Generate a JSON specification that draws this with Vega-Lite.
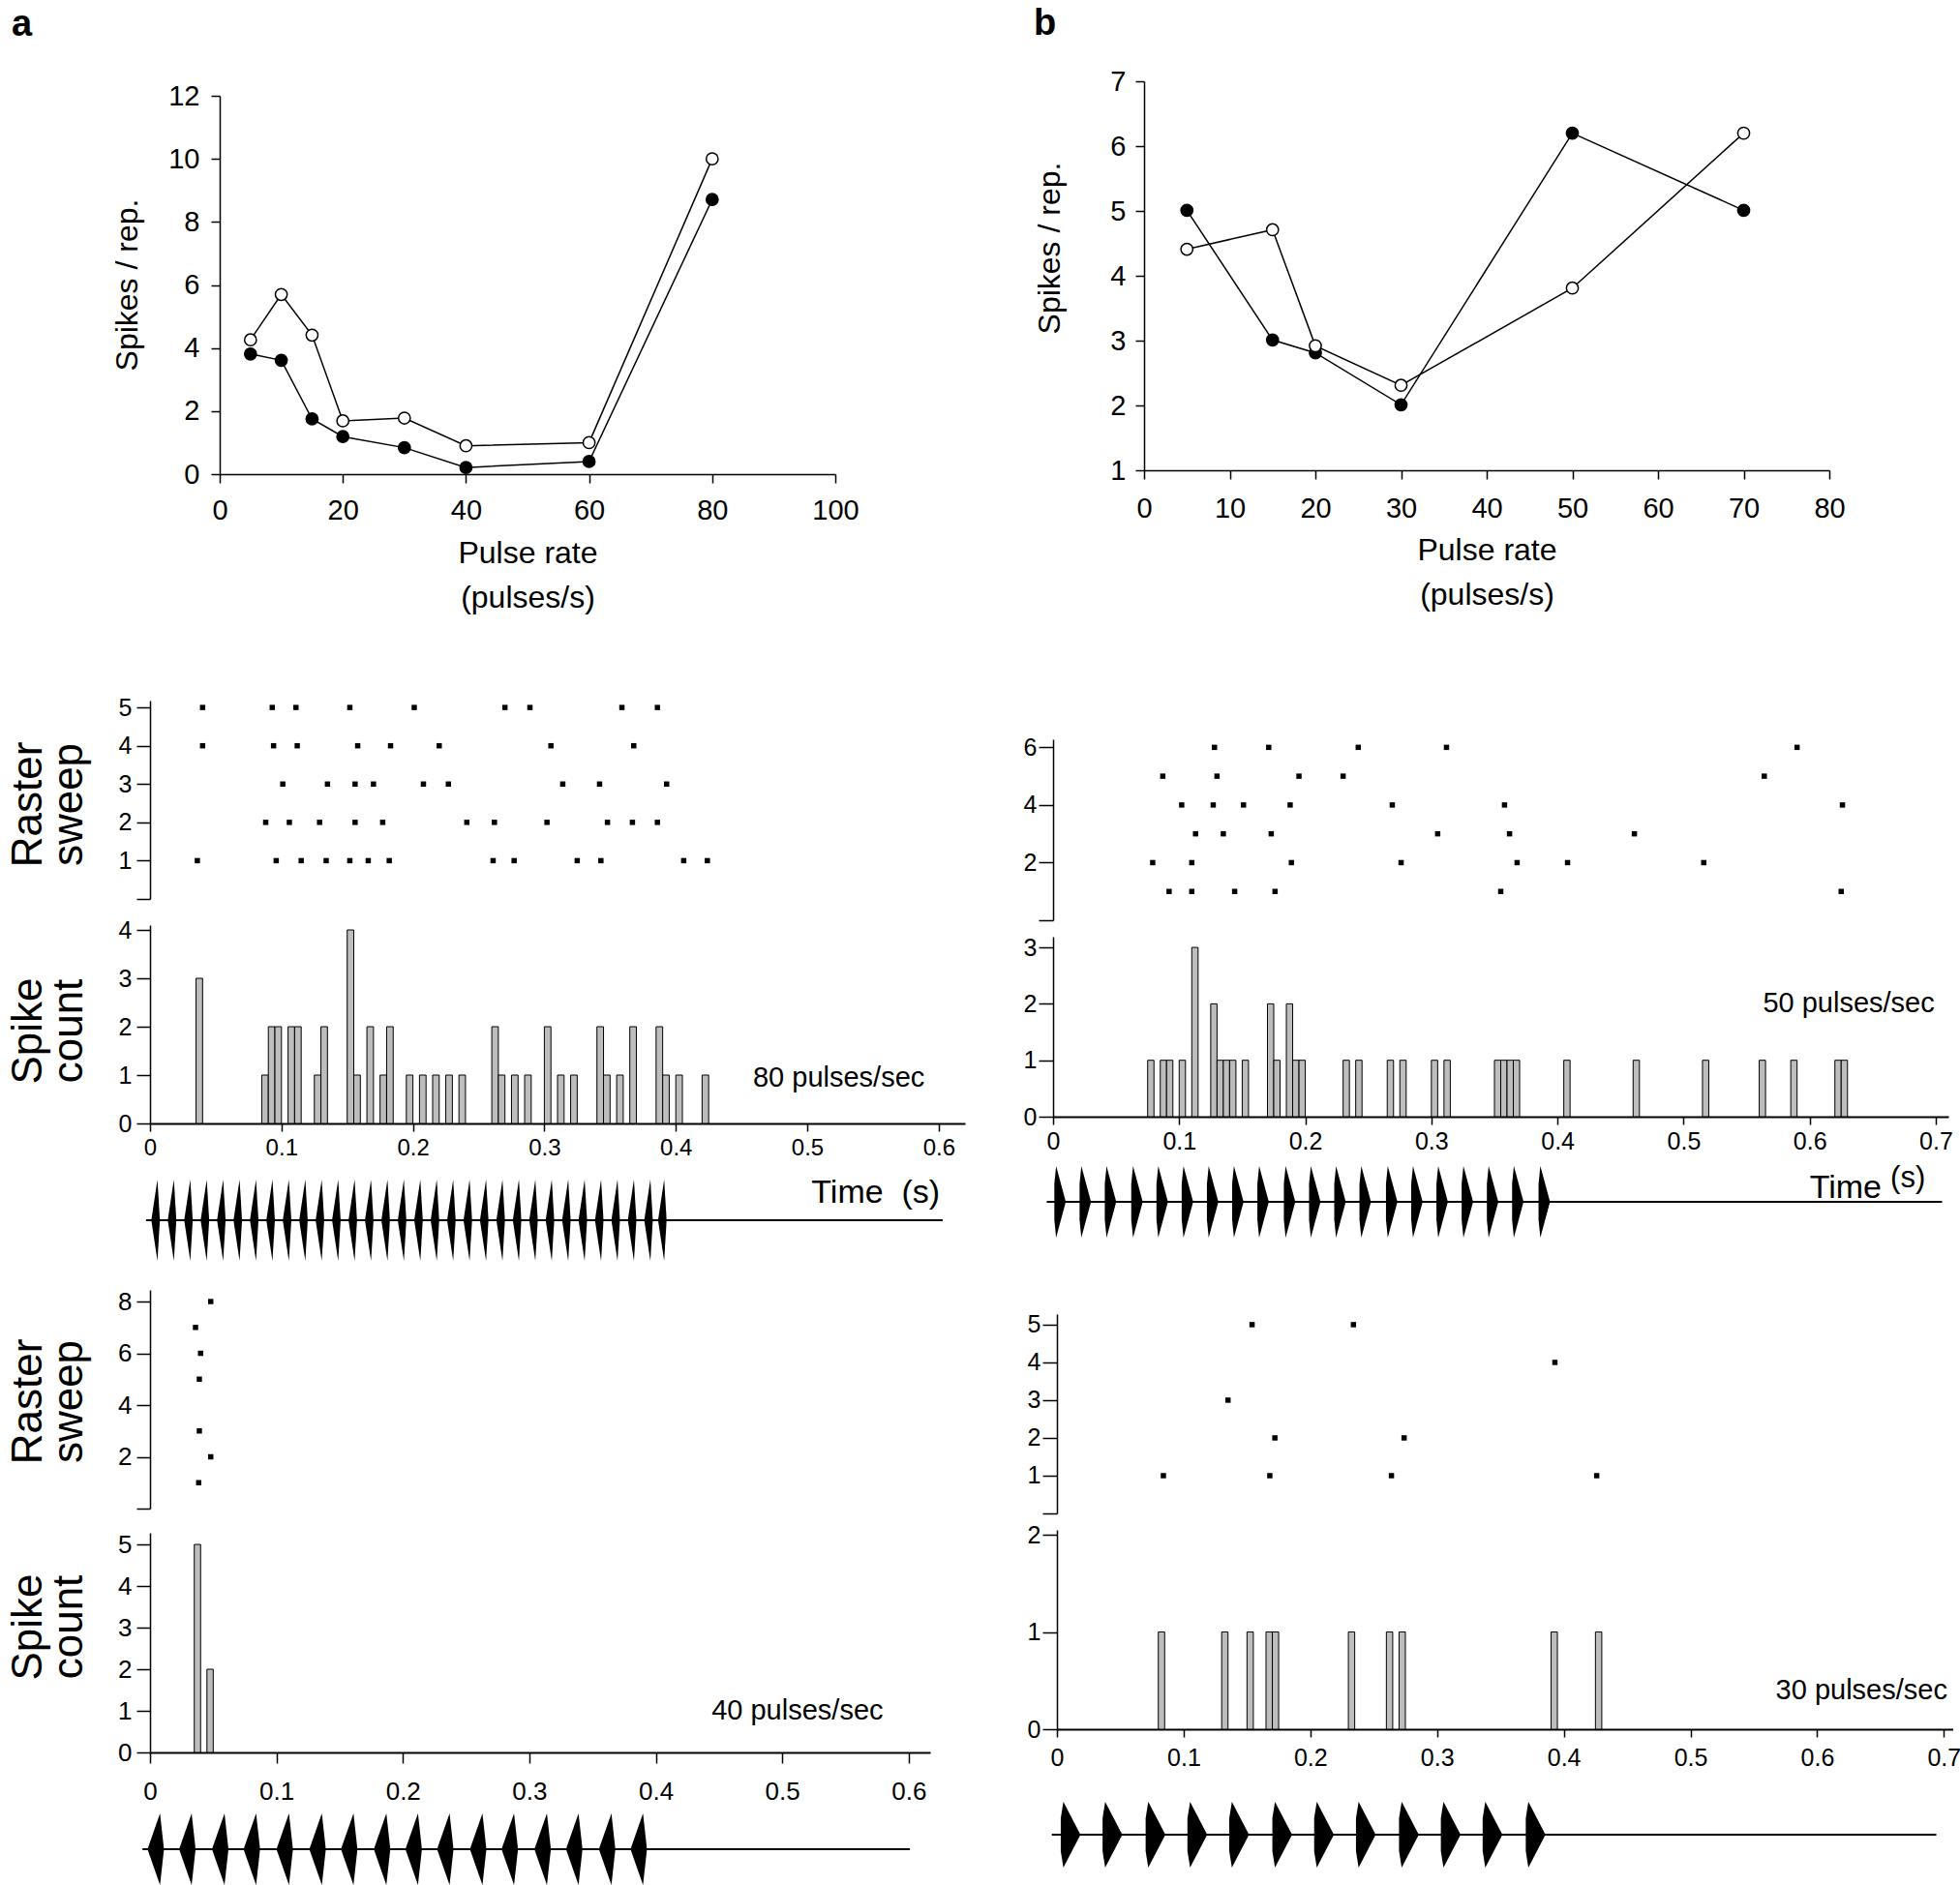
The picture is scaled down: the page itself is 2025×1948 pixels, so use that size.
{
  "$schema": "https://vega.github.io/schema/vega-lite/v6.json",
  "background": "white",
  "padding": {"left": 7, "top": 6, "right": 0, "bottom": 0},
  "config": {
    "font": "Liberation Sans",
    "view": {"stroke": null},
    "axis": {"grid": false, "domainColor": "black", "tickColor": "black", "labelColor": "black", "titleColor": "black", "domainWidth": 1.5, "tickWidth": 1.5, "labelFlush": false, "labelOverlap": false, "titleFontWeight": "normal", "labelFont": "Liberation Sans", "titleFont": "Liberation Sans"},
    "title": {"font": "Liberation Sans", "fontWeight": "bold", "color": "black"},
    "text": {"font": "Liberation Sans", "color": "black"}
  },
  "datasets": {
    "top_a": [
      {"series": "open", "rate": 5, "spikes": 4.26}, {"series": "open", "rate": 10, "spikes": 5.7}, {"series": "open", "rate": 15, "spikes": 4.41}, {"series": "open", "rate": 20, "spikes": 1.69}, {"series": "open", "rate": 30, "spikes": 1.78}, {"series": "open", "rate": 40, "spikes": 0.9}, {"series": "open", "rate": 60, "spikes": 1.0}, {"series": "open", "rate": 80, "spikes": 10.0},
      {"series": "filled", "rate": 5, "spikes": 3.81}, {"series": "filled", "rate": 10, "spikes": 3.61}, {"series": "filled", "rate": 15, "spikes": 1.75}, {"series": "filled", "rate": 20, "spikes": 1.19}, {"series": "filled", "rate": 30, "spikes": 0.84}, {"series": "filled", "rate": 40, "spikes": 0.21}, {"series": "filled", "rate": 60, "spikes": 0.4}, {"series": "filled", "rate": 80, "spikes": 8.71}
    ],
    "top_b": [
      {"series": "filled", "rate": 5, "spikes": 5.01}, {"series": "filled", "rate": 15, "spikes": 3.01}, {"series": "filled", "rate": 20, "spikes": 2.81}, {"series": "filled", "rate": 30, "spikes": 2.01}, {"series": "filled", "rate": 50, "spikes": 6.2}, {"series": "filled", "rate": 70, "spikes": 5.01},
      {"series": "open", "rate": 5, "spikes": 4.41}, {"series": "open", "rate": 15, "spikes": 4.71}, {"series": "open", "rate": 20, "spikes": 2.92}, {"series": "open", "rate": 30, "spikes": 2.31}, {"series": "open", "rate": 50, "spikes": 3.81}, {"series": "open", "rate": 70, "spikes": 6.2}
    ],
    "raster80": [
      {"sweep": 5, "t": 0.040}, {"sweep": 5, "t": 0.093}, {"sweep": 5, "t": 0.111}, {"sweep": 5, "t": 0.152}, {"sweep": 5, "t": 0.201}, {"sweep": 5, "t": 0.270}, {"sweep": 5, "t": 0.289}, {"sweep": 5, "t": 0.359}, {"sweep": 5, "t": 0.386},
      {"sweep": 4, "t": 0.040}, {"sweep": 4, "t": 0.094}, {"sweep": 4, "t": 0.112}, {"sweep": 4, "t": 0.158}, {"sweep": 4, "t": 0.183}, {"sweep": 4, "t": 0.220}, {"sweep": 4, "t": 0.305}, {"sweep": 4, "t": 0.368},
      {"sweep": 3, "t": 0.101}, {"sweep": 3, "t": 0.135}, {"sweep": 3, "t": 0.156}, {"sweep": 3, "t": 0.170}, {"sweep": 3, "t": 0.208}, {"sweep": 3, "t": 0.227}, {"sweep": 3, "t": 0.314}, {"sweep": 3, "t": 0.342}, {"sweep": 3, "t": 0.393},
      {"sweep": 2, "t": 0.088}, {"sweep": 2, "t": 0.106}, {"sweep": 2, "t": 0.129}, {"sweep": 2, "t": 0.156}, {"sweep": 2, "t": 0.177}, {"sweep": 2, "t": 0.241}, {"sweep": 2, "t": 0.262}, {"sweep": 2, "t": 0.302}, {"sweep": 2, "t": 0.348}, {"sweep": 2, "t": 0.367}, {"sweep": 2, "t": 0.386},
      {"sweep": 1, "t": 0.036}, {"sweep": 1, "t": 0.096}, {"sweep": 1, "t": 0.115}, {"sweep": 1, "t": 0.134}, {"sweep": 1, "t": 0.152}, {"sweep": 1, "t": 0.166}, {"sweep": 1, "t": 0.182}, {"sweep": 1, "t": 0.261}, {"sweep": 1, "t": 0.277}, {"sweep": 1, "t": 0.325}, {"sweep": 1, "t": 0.343}, {"sweep": 1, "t": 0.406}, {"sweep": 1, "t": 0.424}
    ],
    "hist80": [
      {"start": 0.035, "end": 0.040, "count": 3}, {"start": 0.085, "end": 0.090, "count": 1}, {"start": 0.090, "end": 0.095, "count": 2}, {"start": 0.095, "end": 0.100, "count": 2}, {"start": 0.105, "end": 0.110, "count": 2}, {"start": 0.110, "end": 0.115, "count": 2}, {"start": 0.125, "end": 0.130, "count": 1}, {"start": 0.130, "end": 0.135, "count": 2}, {"start": 0.150, "end": 0.155, "count": 4}, {"start": 0.155, "end": 0.160, "count": 1}, {"start": 0.165, "end": 0.170, "count": 2}, {"start": 0.175, "end": 0.180, "count": 1}, {"start": 0.180, "end": 0.185, "count": 2}, {"start": 0.195, "end": 0.200, "count": 1}, {"start": 0.205, "end": 0.210, "count": 1}, {"start": 0.215, "end": 0.220, "count": 1}, {"start": 0.225, "end": 0.230, "count": 1}, {"start": 0.235, "end": 0.240, "count": 1}, {"start": 0.260, "end": 0.265, "count": 2}, {"start": 0.265, "end": 0.270, "count": 1}, {"start": 0.275, "end": 0.280, "count": 1}, {"start": 0.285, "end": 0.290, "count": 1}, {"start": 0.300, "end": 0.305, "count": 2}, {"start": 0.310, "end": 0.315, "count": 1}, {"start": 0.320, "end": 0.325, "count": 1}, {"start": 0.340, "end": 0.345, "count": 2}, {"start": 0.345, "end": 0.350, "count": 1}, {"start": 0.355, "end": 0.360, "count": 1}, {"start": 0.365, "end": 0.370, "count": 2}, {"start": 0.385, "end": 0.390, "count": 2}, {"start": 0.390, "end": 0.395, "count": 1}, {"start": 0.400, "end": 0.405, "count": 1}, {"start": 0.420, "end": 0.425, "count": 1}
    ],
    "pulses80": [
      {"t": 0.001}, {"t": 0.0135}, {"t": 0.026}, {"t": 0.0385}, {"t": 0.051}, {"t": 0.0635}, {"t": 0.076}, {"t": 0.0885}, {"t": 0.101}, {"t": 0.1135}, {"t": 0.126}, {"t": 0.1385}, {"t": 0.151}, {"t": 0.1635}, {"t": 0.176}, {"t": 0.1885}, {"t": 0.201}, {"t": 0.2135}, {"t": 0.226}, {"t": 0.2385}, {"t": 0.251}, {"t": 0.2635}, {"t": 0.276}, {"t": 0.2885}, {"t": 0.301}, {"t": 0.3135}, {"t": 0.326}, {"t": 0.3385}, {"t": 0.351}, {"t": 0.3635}, {"t": 0.376}, {"t": 0.3865}
    ],
    "raster50": [
      {"sweep": 6, "t": 0.128}, {"sweep": 6, "t": 0.171}, {"sweep": 6, "t": 0.242}, {"sweep": 6, "t": 0.312}, {"sweep": 6, "t": 0.590},
      {"sweep": 5, "t": 0.087}, {"sweep": 5, "t": 0.130}, {"sweep": 5, "t": 0.195}, {"sweep": 5, "t": 0.230}, {"sweep": 5, "t": 0.564},
      {"sweep": 4, "t": 0.102}, {"sweep": 4, "t": 0.127}, {"sweep": 4, "t": 0.151}, {"sweep": 4, "t": 0.188}, {"sweep": 4, "t": 0.269}, {"sweep": 4, "t": 0.358}, {"sweep": 4, "t": 0.626},
      {"sweep": 3, "t": 0.113}, {"sweep": 3, "t": 0.135}, {"sweep": 3, "t": 0.173}, {"sweep": 3, "t": 0.305}, {"sweep": 3, "t": 0.362}, {"sweep": 3, "t": 0.461},
      {"sweep": 2, "t": 0.079}, {"sweep": 2, "t": 0.110}, {"sweep": 2, "t": 0.189}, {"sweep": 2, "t": 0.276}, {"sweep": 2, "t": 0.368}, {"sweep": 2, "t": 0.408}, {"sweep": 2, "t": 0.516},
      {"sweep": 1, "t": 0.092}, {"sweep": 1, "t": 0.110}, {"sweep": 1, "t": 0.144}, {"sweep": 1, "t": 0.176}, {"sweep": 1, "t": 0.355}, {"sweep": 1, "t": 0.625}
    ],
    "hist50": [
      {"start": 0.075, "end": 0.080, "count": 1}, {"start": 0.085, "end": 0.090, "count": 1}, {"start": 0.090, "end": 0.095, "count": 1}, {"start": 0.100, "end": 0.105, "count": 1}, {"start": 0.110, "end": 0.115, "count": 3}, {"start": 0.125, "end": 0.130, "count": 2}, {"start": 0.130, "end": 0.135, "count": 1}, {"start": 0.135, "end": 0.140, "count": 1}, {"start": 0.140, "end": 0.145, "count": 1}, {"start": 0.150, "end": 0.155, "count": 1}, {"start": 0.170, "end": 0.175, "count": 2}, {"start": 0.175, "end": 0.180, "count": 1}, {"start": 0.185, "end": 0.190, "count": 2}, {"start": 0.190, "end": 0.195, "count": 1}, {"start": 0.195, "end": 0.200, "count": 1}, {"start": 0.230, "end": 0.235, "count": 1}, {"start": 0.240, "end": 0.245, "count": 1}, {"start": 0.265, "end": 0.270, "count": 1}, {"start": 0.275, "end": 0.280, "count": 1}, {"start": 0.300, "end": 0.305, "count": 1}, {"start": 0.310, "end": 0.315, "count": 1}, {"start": 0.350, "end": 0.355, "count": 1}, {"start": 0.355, "end": 0.360, "count": 1}, {"start": 0.360, "end": 0.365, "count": 1}, {"start": 0.365, "end": 0.370, "count": 1}, {"start": 0.405, "end": 0.410, "count": 1}, {"start": 0.460, "end": 0.465, "count": 1}, {"start": 0.515, "end": 0.520, "count": 1}, {"start": 0.560, "end": 0.565, "count": 1}, {"start": 0.585, "end": 0.590, "count": 1}, {"start": 0.620, "end": 0.625, "count": 1}, {"start": 0.625, "end": 0.630, "count": 1}
    ],
    "pulses50": [
      {"t": 0.001}, {"t": 0.021}, {"t": 0.041}, {"t": 0.062}, {"t": 0.082}, {"t": 0.102}, {"t": 0.122}, {"t": 0.142}, {"t": 0.162}, {"t": 0.183}, {"t": 0.203}, {"t": 0.223}, {"t": 0.243}, {"t": 0.264}, {"t": 0.284}, {"t": 0.304}, {"t": 0.324}, {"t": 0.344}, {"t": 0.364}, {"t": 0.385}
    ],
    "raster40": [
      {"sweep": 8, "t": 0.048}, {"sweep": 7, "t": 0.036}, {"sweep": 6, "t": 0.040}, {"sweep": 5, "t": 0.039}, {"sweep": 3, "t": 0.039}, {"sweep": 2, "t": 0.048}, {"sweep": 1, "t": 0.0385}
    ],
    "hist40": [
      {"start": 0.035, "end": 0.040, "count": 5}, {"start": 0.045, "end": 0.050, "count": 2}
    ],
    "pulses40": [
      {"t": -0.002}, {"t": 0.023}, {"t": 0.049}, {"t": 0.074}, {"t": 0.100}, {"t": 0.126}, {"t": 0.151}, {"t": 0.177}, {"t": 0.202}, {"t": 0.227}, {"t": 0.253}, {"t": 0.278}, {"t": 0.304}, {"t": 0.329}, {"t": 0.355}, {"t": 0.380}
    ],
    "raster30": [
      {"sweep": 5, "t": 0.154}, {"sweep": 5, "t": 0.234}, {"sweep": 4, "t": 0.393}, {"sweep": 3, "t": 0.135}, {"sweep": 2, "t": 0.172}, {"sweep": 2, "t": 0.274}, {"sweep": 1, "t": 0.084}, {"sweep": 1, "t": 0.168}, {"sweep": 1, "t": 0.264}, {"sweep": 1, "t": 0.426}
    ],
    "hist30": [
      {"start": 0.080, "end": 0.085, "count": 1}, {"start": 0.130, "end": 0.135, "count": 1}, {"start": 0.150, "end": 0.155, "count": 1}, {"start": 0.165, "end": 0.170, "count": 1}, {"start": 0.170, "end": 0.175, "count": 1}, {"start": 0.230, "end": 0.235, "count": 1}, {"start": 0.260, "end": 0.265, "count": 1}, {"start": 0.270, "end": 0.275, "count": 1}, {"start": 0.390, "end": 0.395, "count": 1}, {"start": 0.425, "end": 0.430, "count": 1}
    ],
    "pulses30": [
      {"t": 0.003}, {"t": 0.036}, {"t": 0.070}, {"t": 0.103}, {"t": 0.136}, {"t": 0.170}, {"t": 0.203}, {"t": 0.236}, {"t": 0.270}, {"t": 0.303}, {"t": 0.336}, {"t": 0.370}
    ]
  },
  "columns": 2,
  "spacing": {"row": 0, "column": 91},
  "align": {"row": "each", "column": "each"},
  "bounds": "flush",
  "concat": [
    {
      "width": 708, "height": 519,
      "title": {"text": "a", "anchor": "start", "frame": "group", "dx": -143, "dy": -9, "offset": 0, "baseline": "alphabetic", "fontSize": 38, "fontWeight": "bold"},
      "data": {"name": "top_a"},
      "encoding": {
        "x": {"field": "rate", "type": "quantitative", "scale": {"domain": [0, 100], "range": [72, 708], "nice": false, "zero": false},
              "axis": {"values": [0, 20, 40, 60, 80, 100], "offset": -113, "title": ["Pulse rate", "(pulses/s)"], "titleFontSize": 32, "titleLineHeight": 46, "titleBaseline": "alphabetic", "titleY": 91, "labelFontSize": 29, "tickSize": 9, "labelPadding": 14}},
        "y": {"field": "spikes", "type": "quantitative", "scale": {"domain": [0, 12], "range": [406, 15], "nice": false},
              "axis": {"values": [0, 2, 4, 6, 8, 10, 12], "offset": -72, "title": "Spikes / rep.", "titleFontSize": 32, "titleAngle": 270, "titleBaseline": "alphabetic", "titleAlign": "center", "titleX": -86, "titleY": 210, "labelFontSize": 29, "tickSize": 9, "labelPadding": 12}}
      },
      "layer": [
        {"mark": {"type": "line", "color": "black", "strokeWidth": 1.5}, "encoding": {"detail": {"field": "series", "type": "nominal"}}},
        {"mark": {"type": "point", "shape": "circle", "size": 150, "filled": true, "stroke": "black", "strokeWidth": 1.5, "opacity": 1},
         "encoding": {"fill": {"field": "series", "type": "nominal", "scale": {"domain": ["filled", "open"], "range": ["black", "white"]}, "legend": null}}}
      ]
    },
    {
      "width": 802, "height": 519,
      "title": {"text": "b", "anchor": "start", "frame": "group", "dx": -20, "dy": 4, "offset": 0, "baseline": "alphabetic", "fontSize": 38, "fontWeight": "bold"},
      "data": {"name": "top_b"},
      "encoding": {
        "x": {"field": "rate", "type": "quantitative", "scale": {"domain": [0, 80], "range": [94, 802], "nice": false, "zero": false},
              "axis": {"values": [0, 10, 20, 30, 40, 50, 60, 70, 80], "offset": -117, "title": ["Pulse rate", "(pulses/s)"], "titleFontSize": 32, "titleLineHeight": 46, "titleBaseline": "alphabetic", "titleY": 92, "labelFontSize": 29, "tickSize": 9, "labelPadding": 16}},
        "y": {"field": "spikes", "type": "quantitative", "scale": {"domain": [1, 7], "range": [402, 0], "nice": false, "zero": false},
              "axis": {"values": [1, 2, 3, 4, 5, 6, 7], "offset": -94, "title": "Spikes / rep.", "titleFontSize": 32, "titleAngle": 270, "titleBaseline": "alphabetic", "titleAlign": "center", "titleX": -88, "titleY": 172, "labelFontSize": 29, "tickSize": 9, "labelPadding": 10}}
      },
      "layer": [
        {"mark": {"type": "line", "color": "black", "strokeWidth": 1.5}, "encoding": {"detail": {"field": "series", "type": "nominal"}}},
        {"mark": {"type": "point", "shape": "circle", "size": 150, "filled": true, "stroke": "black", "strokeWidth": 1.5, "opacity": 1},
         "encoding": {"fill": {"field": "series", "type": "nominal", "scale": {"domain": ["filled", "open"], "range": ["black", "white"]}, "legend": null}}}
      ]
    },

    {
      "width": 842, "height": 350,
      "data": {"name": "raster80"},
      "mark": {"type": "point", "shape": "square", "size": 30, "filled": true, "color": "black", "opacity": 1},
      "encoding": {
        "x": {"field": "t", "type": "quantitative", "scale": {"domain": [0, 0.62], "nice": false, "zero": false}, "axis": null},
        "y": {"field": "sweep", "type": "quantitative", "scale": {"domain": [0, 5.18], "range": [326, 121], "nice": false},
              "axis": {"values": [0, 1, 2, 3, 4, 5], "format": "d", "labelExpr": "datum.value == 0 ? '' : datum.label", "title": ["Raster", "sweep"], "titleFontSize": 44, "titleLineHeight": 42, "titleAngle": 270, "titleBaseline": "alphabetic", "titleAlign": "center", "titleX": -113, "titleY": 228, "labelFontSize": 25, "tickSize": 14, "labelPadding": 5}}
      }
    },
    {
      "width": 925, "height": 350,
      "data": {"name": "raster50"},
      "mark": {"type": "point", "shape": "square", "size": 30, "filled": true, "color": "black", "opacity": 1},
      "encoding": {
        "x": {"field": "t", "type": "quantitative", "scale": {"domain": [0, 0.71], "nice": false, "zero": false}, "axis": null},
        "y": {"field": "sweep", "type": "quantitative", "scale": {"domain": [0, 6.28], "range": [348, 161], "nice": false},
              "axis": {"values": [0, 2, 4, 6], "format": "d", "labelExpr": "datum.value == 0 ? '' : datum.label", "title": null, "labelFontSize": 25, "tickSize": 15, "labelPadding": 2}}
      }
    },

    {
      "width": 842, "height": 210,
      "layer": [
        {"data": {"name": "hist80"}, "mark": {"type": "bar", "fill": "#bdbdbd", "stroke": "black", "strokeWidth": 1},
         "encoding": {
           "x": {"field": "start", "type": "quantitative", "scale": {"domain": [0, 0.62], "nice": false, "zero": false},
                 "axis": {"values": [0, 0.1, 0.2, 0.3, 0.4, 0.5, 0.6], "format": "~g", "offset": -2, "title": null, "labelFontSize": 24, "tickSize": 8, "labelPadding": 5, "domainWidth": 2}},
           "x2": {"field": "end"},
           "y": {"field": "count", "type": "quantitative", "scale": {"domain": [0, 4.1], "range": [208, 3], "nice": false},
                 "axis": {"values": [0, 1, 2, 3, 4], "format": "d", "title": ["Spike", "count"], "titleFontSize": 44, "titleLineHeight": 42, "titleAngle": 270, "titleBaseline": "alphabetic", "titleAlign": "center", "titleX": -113, "titleY": 112, "labelFontSize": 25, "tickSize": 14, "labelPadding": 5}},
           "y2": {"datum": 0}
         }},
        {"data": {"values": [{}]}, "mark": {"type": "text", "text": "80 pulses/sec", "fontSize": 29, "align": "center", "baseline": "middle"},
         "encoding": {"x": {"datum": 0.524, "type": "quantitative"}, "y": {"datum": 0.94, "type": "quantitative"}}}
      ]
    },
    {
      "width": 925, "height": 210,
      "layer": [
        {"data": {"name": "hist50"}, "mark": {"type": "bar", "fill": "#bdbdbd", "stroke": "black", "strokeWidth": 1},
         "encoding": {
           "x": {"field": "start", "type": "quantitative", "scale": {"domain": [0, 0.71], "nice": false, "zero": false},
                 "axis": {"values": [0, 0.1, 0.2, 0.3, 0.4, 0.5, 0.6, 0.7], "format": "~g", "offset": -9, "title": null, "labelFontSize": 25, "tickSize": 8, "labelPadding": 5, "domainWidth": 2}},
           "x2": {"field": "end"},
           "y": {"field": "count", "type": "quantitative", "scale": {"domain": [0, 3.19], "range": [201, 15], "nice": false},
                 "axis": {"values": [0, 1, 2, 3], "format": "d", "title": null, "labelFontSize": 25, "tickSize": 15, "labelPadding": 2}},
           "y2": {"datum": 0}
         }},
        {"data": {"values": [{}]}, "mark": {"type": "text", "text": "50 pulses/sec", "fontSize": 29, "align": "center", "baseline": "middle"},
         "encoding": {"x": {"datum": 0.631, "type": "quantitative"}, "y": {"datum": 2.0, "type": "quantitative"}}}
      ]
    },

    {
      "width": 842, "height": 150,
      "layer": [
        {"data": {"values": [{}]}, "mark": {"type": "rule", "color": "black", "strokeWidth": 2},
         "encoding": {"x": {"datum": -0.003, "type": "quantitative", "scale": {"domain": [0, 0.62], "nice": false, "zero": false}, "axis": null}, "x2": {"datum": 0.603},
                      "y": {"datum": 0, "type": "quantitative", "scale": {"domain": [-1, 1], "range": [140, 56], "nice": false}, "axis": null}}},
        {"data": {"name": "pulses80"}, "mark": {"type": "point", "shape": "M0,0L0.15,-1L0.21,0L0.15,1Z", "size": 7056, "filled": true, "color": "black", "opacity": 1, "strokeWidth": 0},
         "encoding": {"x": {"field": "t", "type": "quantitative"}, "y": {"datum": 0, "type": "quantitative"}}},
        {"data": {"values": [{}]}, "mark": {"type": "text", "text": "Time\u00a0\u00a0(s)", "fontSize": 34, "align": "right", "baseline": "alphabetic"},
         "encoding": {"x": {"datum": 0.601, "type": "quantitative"}, "y": {"datum": 0.43, "type": "quantitative"}}}
      ]
    },
    {
      "width": 925, "height": 150,
      "layer": [
        {"data": {"values": [{}]}, "mark": {"type": "rule", "color": "black", "strokeWidth": 2},
         "encoding": {"x": {"datum": -0.005, "type": "quantitative", "scale": {"domain": [0, 0.71], "nice": false, "zero": false}, "axis": null}, "x2": {"datum": 0.705},
                      "y": {"datum": 0, "type": "quantitative", "scale": {"domain": [-1, 1], "range": [116, 42], "nice": false}, "axis": null}}},
        {"data": {"name": "pulses50"}, "mark": {"type": "point", "shape": "M0,-0.5L0.05,-1L0.32,0L0.05,1L0,0.5Z", "size": 5476, "filled": true, "color": "black", "opacity": 1, "strokeWidth": 0},
         "encoding": {"x": {"field": "t", "type": "quantitative"}, "y": {"datum": 0, "type": "quantitative"}}},
        {"data": {"values": [{}]}, "mark": {"type": "text", "text": "Time", "fontSize": 34, "align": "right", "baseline": "alphabetic"},
         "encoding": {"x": {"datum": 0.657, "type": "quantitative"}, "y": {"datum": 0.11, "type": "quantitative"}}},
        {"data": {"values": [{}]}, "mark": {"type": "text", "text": "(s)", "fontSize": 31, "align": "left", "baseline": "alphabetic"},
         "encoding": {"x": {"datum": 0.664, "type": "quantitative"}, "y": {"datum": 0.4, "type": "quantitative"}}}
      ]
    },

    {
      "width": 806, "height": 255,
      "data": {"name": "raster40"},
      "mark": {"type": "point", "shape": "square", "size": 30, "filled": true, "color": "black", "opacity": 1},
      "encoding": {
        "x": {"field": "t", "type": "quantitative", "scale": {"domain": [0, 0.617], "nice": false, "zero": false}, "axis": null},
        "y": {"field": "sweep", "type": "quantitative", "scale": {"domain": [0, 8.45], "range": [246, 20], "nice": false},
              "axis": {"values": [0, 2, 4, 6, 8], "format": "d", "labelExpr": "datum.value == 0 ? '' : datum.label", "title": ["Raster", "sweep"], "titleFontSize": 44, "titleLineHeight": 42, "titleAngle": 270, "titleBaseline": "alphabetic", "titleAlign": "center", "titleX": -113, "titleY": 135, "labelFontSize": 26, "tickSize": 14, "labelPadding": 5}}
      }
    },
    {
      "width": 930, "height": 255,
      "data": {"name": "raster30"},
      "mark": {"type": "point", "shape": "square", "size": 30, "filled": true, "color": "black", "opacity": 1},
      "encoding": {
        "x": {"field": "t", "type": "quantitative", "scale": {"domain": [0, 0.707], "range": [4, 929.5], "nice": false, "zero": false}, "axis": null},
        "y": {"field": "sweep", "type": "quantitative", "scale": {"domain": [0, 5.28], "range": [251, 45], "nice": false},
              "axis": {"values": [0, 1, 2, 3, 4, 5], "format": "d", "offset": -4, "labelExpr": "datum.value == 0 ? '' : datum.label", "title": null, "labelFontSize": 25, "tickSize": 15, "labelPadding": 2}}
      }
    },

    {
      "width": 806, "height": 245,
      "layer": [
        {"data": {"name": "hist40"}, "mark": {"type": "bar", "fill": "#bdbdbd", "stroke": "black", "strokeWidth": 1},
         "encoding": {
           "x": {"field": "start", "type": "quantitative", "scale": {"domain": [0, 0.617], "nice": false, "zero": false},
                 "axis": {"values": [0, 0.1, 0.2, 0.3, 0.4, 0.5, 0.6], "format": "~g", "offset": -2, "title": null, "labelFontSize": 26, "tickSize": 11, "labelPadding": 16, "domainWidth": 2}},
           "x2": {"field": "end"},
           "y": {"field": "count", "type": "quantitative", "scale": {"domain": [0, 5.28], "range": [243, 16], "nice": false},
                 "axis": {"values": [0, 1, 2, 3, 4, 5], "format": "d", "title": ["Spike", "count"], "titleFontSize": 44, "titleLineHeight": 42, "titleAngle": 270, "titleBaseline": "alphabetic", "titleAlign": "center", "titleX": -113, "titleY": 113, "labelFontSize": 26, "tickSize": 14, "labelPadding": 5}},
           "y2": {"datum": 0}
         }},
        {"data": {"values": [{}]}, "mark": {"type": "text", "text": "40 pulses/sec", "fontSize": 29, "align": "center", "baseline": "middle"},
         "encoding": {"x": {"datum": 0.512, "type": "quantitative"}, "y": {"datum": 0.99, "type": "quantitative"}}}
      ]
    },
    {
      "width": 930, "height": 245,
      "layer": [
        {"data": {"name": "hist30"}, "mark": {"type": "bar", "fill": "#bdbdbd", "stroke": "black", "strokeWidth": 1},
         "encoding": {
           "x": {"field": "start", "type": "quantitative", "scale": {"domain": [0, 0.707], "range": [4, 929.5], "nice": false, "zero": false},
                 "axis": {"values": [0, 0.1, 0.2, 0.3, 0.4, 0.5, 0.6, 0.7], "format": "~g", "offset": -26, "title": null, "labelFontSize": 25, "tickSize": 8, "labelPadding": 9, "domainWidth": 2}},
           "x2": {"field": "end"},
           "y": {"field": "count", "type": "quantitative", "scale": {"domain": [0, 2.05], "range": [219, 13], "nice": false},
                 "axis": {"values": [0, 0.5, 1, 1.5, 2], "labelExpr": "datum.value == 0 ? '0' : datum.value == 1 ? '1' : datum.value == 2 ? '2' : ''", "tickSize": 15, "tickOpacity": {"condition": {"test": "datum.value % 1 != 0", "value": 0}, "value": 1}, "offset": -4, "labelOverlap": false, "title": null, "labelFontSize": 25, "labelPadding": 2}},
           "y2": {"datum": 0}
         }},
        {"data": {"values": [{}]}, "mark": {"type": "text", "text": "30 pulses/sec", "fontSize": 29, "align": "center", "baseline": "middle"},
         "encoding": {"x": {"datum": 0.635, "type": "quantitative"}, "y": {"datum": 0.40, "type": "quantitative"}}}
      ]
    },

    {
      "width": 806, "height": 138,
      "layer": [
        {"data": {"values": [{}]}, "mark": {"type": "rule", "color": "black", "strokeWidth": 2},
         "encoding": {"x": {"datum": -0.006, "type": "quantitative", "scale": {"domain": [0, 0.617], "nice": false, "zero": false}, "axis": null}, "x2": {"datum": 0.601},
                      "y": {"datum": 0, "type": "quantitative", "scale": {"domain": [-1, 1], "range": [135, 61], "nice": false}, "axis": null}}},
        {"data": {"name": "pulses40"}, "mark": {"type": "point", "shape": "M0,0L0.35,-1L0.46,0L0.35,1Z", "size": 5476, "filled": true, "color": "black", "opacity": 1, "strokeWidth": 0},
         "encoding": {"x": {"field": "t", "type": "quantitative"}, "y": {"datum": 0, "type": "quantitative"}}}
      ]
    },
    {
      "width": 930, "height": 138,
      "layer": [
        {"data": {"values": [{}]}, "mark": {"type": "rule", "color": "black", "strokeWidth": 2},
         "encoding": {"x": {"datum": -0.004, "type": "quantitative", "scale": {"domain": [0, 0.707], "range": [4, 929.5], "nice": false, "zero": false}, "axis": null}, "x2": {"datum": 0.694},
                      "y": {"datum": 0, "type": "quantitative", "scale": {"domain": [-1, 1], "range": [117, 49], "nice": false}, "axis": null}}},
        {"data": {"name": "pulses30"}, "mark": {"type": "point", "shape": "M0,-0.5L0.08,-1L0.6,0L0.08,1L0,0.5Z", "size": 4624, "filled": true, "color": "black", "opacity": 1, "strokeWidth": 0},
         "encoding": {"x": {"field": "t", "type": "quantitative"}, "y": {"datum": 0, "type": "quantitative"}}}
      ]
    }
  ]
}
